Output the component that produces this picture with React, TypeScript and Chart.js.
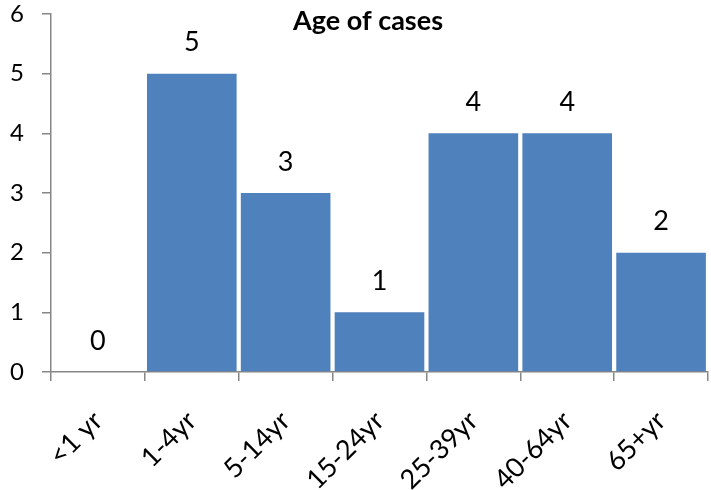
import React, { useEffect, useRef } from "react";
import { Chart, registerables } from "chart.js";

Chart.register(...registerables);

const categories = ["<1 yr", "1-4yr", "5-14yr", "15-24yr", "25-39yr", "40-64yr", "65+yr"];
const cases = [0, 5, 3, 1, 4, 4, 2];
const yTicks = [0, 1, 2, 3, 4, 5, 6];
const titleText = "Age of cases";

const FONT = "Lato, 'Open Sans', sans-serif";

const valueLabels = {
  id: "valueLabels",
  afterDatasetsDraw(chart: any) {
    const { ctx } = chart;
    const meta = chart.getDatasetMeta(0);
    ctx.save();
    ctx.font = `27px ${FONT}`;
    ctx.fillStyle = "#000";
    ctx.textAlign = "center";
    ctx.textBaseline = "middle";
    meta.data.forEach((bar: any, i: number) => {
      ctx.fillText(String(cases[i]), bar.x, bar.y - 31);
    });
    ctx.restore();
  },
};

const overlayTitle = {
  id: "overlayTitle",
  afterDraw(chart: any) {
    const { ctx } = chart;
    ctx.save();
    ctx.font = `bold 27px ${FONT}`;
    ctx.fillStyle = "#000";
    ctx.textAlign = "center";
    ctx.textBaseline = "middle";
    ctx.fillText(titleText, 368, 21);
    ctx.restore();
  },
};

export default function App() {
  const ref = useRef<HTMLCanvasElement>(null);
  useEffect(() => {
    document.body.style.margin = "0";
    const chart = new Chart(ref.current!, {
      type: "bar",
      data: {
        labels: categories,
        datasets: [
          {
            data: cases,
            backgroundColor: "#4F81BD",
            barPercentage: 0.955,
            categoryPercentage: 1,
          },
        ],
      },
      plugins: [valueLabels, overlayTitle],
      options: {
        responsive: false,
        animation: false,
        layout: { padding: { top: 14, right: 3, left: 0, bottom: 0 } },
        plugins: { legend: { display: false }, title: { display: false }, tooltip: { enabled: false } },
        scales: {
          x: {
            afterFit: (s: any) => {
              s.height = 118;
              s.paddingLeft = 0;
              s.paddingRight = 0;
            },
            grid: {
              offset: true,
              drawOnChartArea: false,
              drawTicks: true,
              tickLength: 9,
              color: "#868686",
              lineWidth: 1.5,
            },
            border: { color: "#868686", width: 1.5 },
            ticks: {
              color: "#000",
              font: { family: FONT, size: 27 },
              maxRotation: 45,
              minRotation: 45,
              padding: 24,
              autoSkip: false,
            },
          },
          y: {
            min: 0,
            max: 6,
            afterFit: (s: any) => {
              s.width = 51;
              s.paddingTop = 0;
              s.paddingBottom = 0;
            },
            afterBuildTicks: (s: any) => {
              s.ticks = yTicks.map((v) => ({ value: v }));
            },
            grid: {
              drawOnChartArea: false,
              drawTicks: true,
              tickLength: 9,
              color: "#868686",
              lineWidth: 1.5,
            },
            border: { color: "#868686", width: 1.5 },
            ticks: {
              color: "#000",
              font: { family: FONT, size: 24 },
              padding: 18,
            },
          },
        },
      },
    });
    return () => chart.destroy();
  }, []);
  return (
    <div style={{ position: "absolute", left: 0, top: 0, width: 711, height: 490 }}>
      <canvas ref={ref} width={711} height={490} style={{ width: 711, height: 490 }} />
    </div>
  );
}
